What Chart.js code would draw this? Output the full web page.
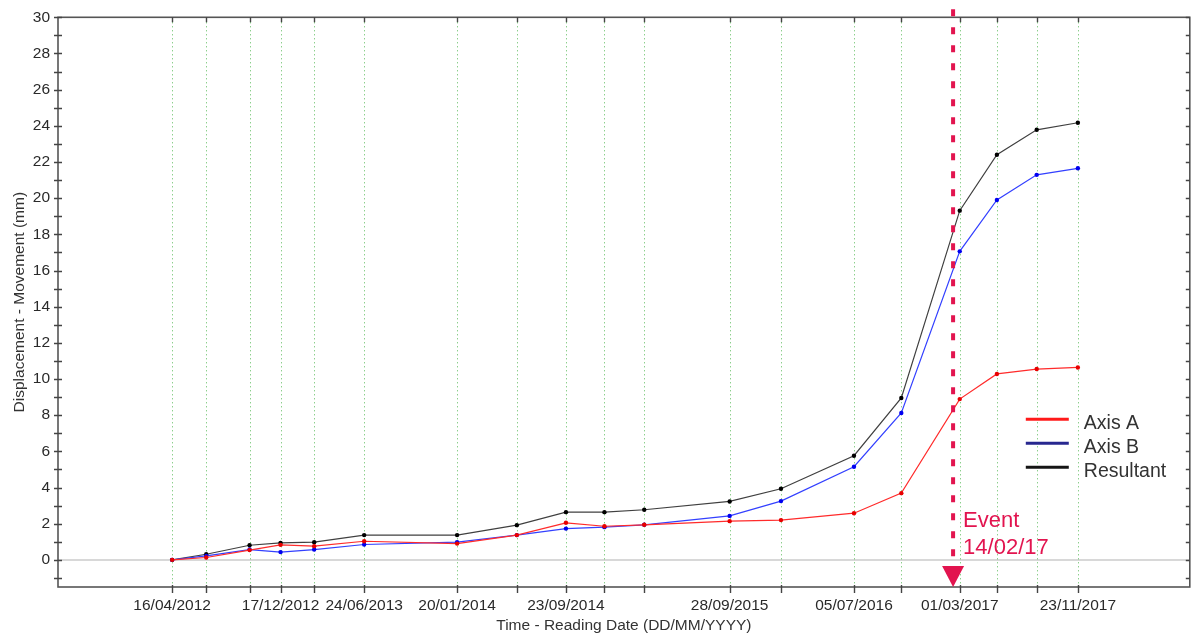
<!DOCTYPE html>
<html>
<head>
<meta charset="utf-8">
<script src="https://cdn.jsdelivr.net/npm/chart.js@4.4.1/dist/chart.umd.min.js"></script>
<style>
  html, body { margin: 0; padding: 0; background: #ffffff; }
  #wrap { width: 1192px; height: 642px; }
</style>
</head>
<body>
<div id="wrap"><canvas id="c" width="1192" height="642"></canvas></div>
<script>
// Reading dates (DD/MM/YYYY) and the movement recorded at each one, in mm
const readingDates = [
  '16/04/2012', '02/07/2012', '08/10/2012', '17/12/2012', '03/03/2013',
  '24/06/2013', '20/01/2014', '04/06/2014', '23/09/2014', '19/12/2014',
  '19/03/2015', '28/09/2015', '22/01/2016', '05/07/2016', '20/10/2016',
  '01/03/2017', '24/05/2017', '22/08/2017', '23/11/2017'
];
const axisA = [
  0, 0.13, 0.54, 0.83, 0.76, 1.03, 0.90, 1.37, 2.05, 1.86,
  1.94, 2.14, 2.20, 2.58, 3.69, 8.89, 10.28, 10.55, 10.64
];
const axisB = [
  0, 0.22, 0.57, 0.43, 0.57, 0.85, 0.98, 1.37, 1.73, 1.81,
  1.94, 2.43, 3.25, 5.15, 8.12, 17.06, 19.90, 21.29, 21.65
];
const resultant = [
  0, 0.31, 0.81, 0.94, 0.98, 1.37, 1.37, 1.92, 2.64, 2.64,
  2.77, 3.23, 3.93, 5.76, 8.95, 19.31, 22.40, 23.78, 24.17
];

// Dates that carry a label on the time axis
const dateTickLabels = [
  '16/04/2012', '17/12/2012', '24/06/2013', '20/01/2014', '23/09/2014',
  '28/09/2015', '05/07/2016', '01/03/2017', '23/11/2017'
];
// Time axis extent
const timeAxisRange = ['02/08/2011', '03/08/2018'];

// Displacement axis: minor ticks every mm, labels on these values
const yRange = [-1.5, 30];
const yTickValues = [];
for (let v = -1; v <= 30; v++) yTickValues.push(v);
const yTickLabels = [0, 2, 4, 6, 8, 10, 12, 14, 16, 18, 20, 22, 24, 26, 28, 30];

// Event marker
const eventDate = '14/02/2017';
const eventText = ['Event', '14/02/17'];

const seriesNames = ['Axis A', 'Axis B', 'Resultant'];

// ---- helpers ----
function toDay(s) {
  const [d, m, y] = s.split('/').map(Number);
  return Date.UTC(y, m - 1, d) / 86400000;
}
const readingDays = readingDates.map(toDay);
const labelByDay = {};
dateTickLabels.forEach(s => { labelByDay[toDay(s)] = s; });

function points(values) {
  return values.map((v, i) => ({ x: readingDays[i], y: v }));
}

const FONT = "'Liberation Sans', Arial, sans-serif";
const lineColors = ['#ff2b2b', '#3340ff', '#404040'];
const pointColors = ['#e80000', '#0000f0', '#000000'];
const legendColors = ['#ff1a1a', '#27278f', '#151515'];
const eventColor = '#e2144f';

// Dotted green reading-date lines behind the series
const dateGrid = {
  id: 'dateGrid',
  beforeDatasetsDraw(chart) {
    const { ctx, chartArea: a, scales: { x } } = chart;
    ctx.save();
    ctx.strokeStyle = 'rgba(50,170,50,0.8)';
    ctx.lineWidth = 1;
    ctx.setLineDash([1, 3]);
    ctx.beginPath();
    x.ticks.forEach(t => {
      const px = Math.round(x.getPixelForValue(t.value)) + 0.5;
      ctx.moveTo(px, a.top + 5);
      ctx.lineTo(px, a.bottom);
    });
    ctx.stroke();
    ctx.restore();
  }
};

// Frame, axis ticks, event marker and legend
const decorations = {
  id: 'decorations',
  afterDatasetsDraw(chart) {
    const { ctx, chartArea: a, scales: { x, y } } = chart;
    ctx.save();

    // frame
    ctx.strokeStyle = '#555555';
    ctx.lineWidth = 1.6;
    ctx.strokeRect(a.left, a.top, a.right - a.left, a.bottom - a.top);

    // tick marks
    ctx.strokeStyle = '#444444';
    ctx.lineWidth = 1.4;
    ctx.beginPath();
    x.ticks.forEach(t => {
      const px = Math.round(x.getPixelForValue(t.value)) + 0.5;
      ctx.moveTo(px, a.bottom - 2); ctx.lineTo(px, a.bottom + 6);
      ctx.moveTo(px, a.top); ctx.lineTo(px, a.top + 5);
    });
    y.ticks.forEach(t => {
      const py = Math.round(y.getPixelForValue(t.value)) + 0.5;
      ctx.moveTo(a.left - 4, py); ctx.lineTo(a.left + 4, py);
      ctx.moveTo(a.right - 4, py); ctx.lineTo(a.right, py);
    });
    ctx.stroke();

    // event marker: dashed line, arrow head and caption
    const ex = x.getPixelForValue(toDay(eventDate));
    const y0 = y.getPixelForValue(0);
    ctx.strokeStyle = eventColor;
    ctx.lineWidth = 4;
    ctx.setLineDash([7, 11]);
    ctx.beginPath();
    ctx.moveTo(ex, a.top - 8);
    ctx.lineTo(ex, a.bottom - 22);
    ctx.stroke();
    ctx.setLineDash([]);
    ctx.fillStyle = eventColor;
    ctx.beginPath();
    ctx.moveTo(ex - 11, a.bottom - 21);
    ctx.lineTo(ex + 11, a.bottom - 21);
    ctx.lineTo(ex, a.bottom);
    ctx.closePath();
    ctx.fill();
    ctx.font = '22px ' + FONT;
    ctx.textAlign = 'left';
    ctx.textBaseline = 'alphabetic';
    ctx.fillText(eventText[0], ex + 10, y0 - 33);
    ctx.fillText(eventText[1], ex + 10, y0 - 6);

    // legend
    const lx = a.right - 164;
    const ly = a.top + 402;
    ctx.font = '19.5px ' + FONT;
    seriesNames.forEach((name, i) => {
      const yy = ly + i * 24;
      ctx.strokeStyle = legendColors[i];
      ctx.lineWidth = 3;
      ctx.beginPath();
      ctx.moveTo(lx, yy); ctx.lineTo(lx + 43, yy);
      ctx.stroke();
      ctx.fillStyle = '#333333';
      ctx.fillText(name, lx + 58, yy + 10);
    });

    ctx.restore();
  }
};

new Chart(document.getElementById('c'), {
  type: 'line',
  data: {
    datasets: [axisA, axisB, resultant].map((vals, i) => ({
      label: seriesNames[i],
      data: points(vals),
      borderColor: lineColors[i],
      borderWidth: 1.2,
      pointRadius: 2.2,
      pointBorderWidth: 0,
      pointBackgroundColor: pointColors[i],
      pointHoverRadius: 2.2,
      tension: 0,
      fill: false
    }))
  },
  options: {
    responsive: false,
    animation: false,
    devicePixelRatio: 1,
    layout: { padding: { left: 0, right: 2, top: 17, bottom: 0 } },
    plugins: {
      legend: { display: false },
      tooltip: { enabled: false },
      title: { display: false }
    },
    scales: {
      x: {
        type: 'linear',
        min: toDay(timeAxisRange[0]),
        max: toDay(timeAxisRange[1]),
        afterBuildTicks(scale) {
          scale.ticks = readingDays.map(v => ({ value: v }));
        },
        afterFit(scale) { scale.height = 55; },
        ticks: {
          autoSkip: false,
          maxRotation: 0,
          minRotation: 0,
          padding: 9,
          color: '#2a2a2a',
          font: { family: FONT, size: 15.5 },
          callback: (v) => labelByDay[v] || ''
        },
        grid: {
          drawTicks: false,
          drawOnChartArea: false
        },
        border: { display: false },
        title: {
          display: true,
          text: 'Time - Reading Date (DD/MM/YYYY)',
          color: '#333333',
          font: { family: FONT, size: 15.5 },
          padding: { top: 0, bottom: 7 }
        }
      },
      y: {
        type: 'linear',
        min: yRange[0],
        max: yRange[1],
        afterBuildTicks(scale) {
          scale.ticks = yTickValues.map(v => ({ value: v }));
        },
        afterFit(scale) { scale.width = 58; },
        ticks: {
          autoSkip: false,
          padding: 8,
          color: '#2a2a2a',
          font: { family: FONT, size: 15.5 },
          callback: (v) => (yTickLabels.includes(v) ? String(v) : '')
        },
        grid: {
          drawTicks: false,
          color: (c) => (c.tick && c.tick.value === 0 ? '#d8d8d8' : 'rgba(0,0,0,0)'),
          lineWidth: (c) => (c.tick && c.tick.value === 0 ? 2 : 0)
        },
        border: { display: false },
        title: {
          display: true,
          text: 'Displacement - Movement (mm)',
          color: '#333333',
          font: { family: FONT, size: 15.5 },
          padding: { top: 10, bottom: 0 }
        }
      }
    }
  },
  plugins: [dateGrid, decorations]
});
</script>
</body>
</html>
